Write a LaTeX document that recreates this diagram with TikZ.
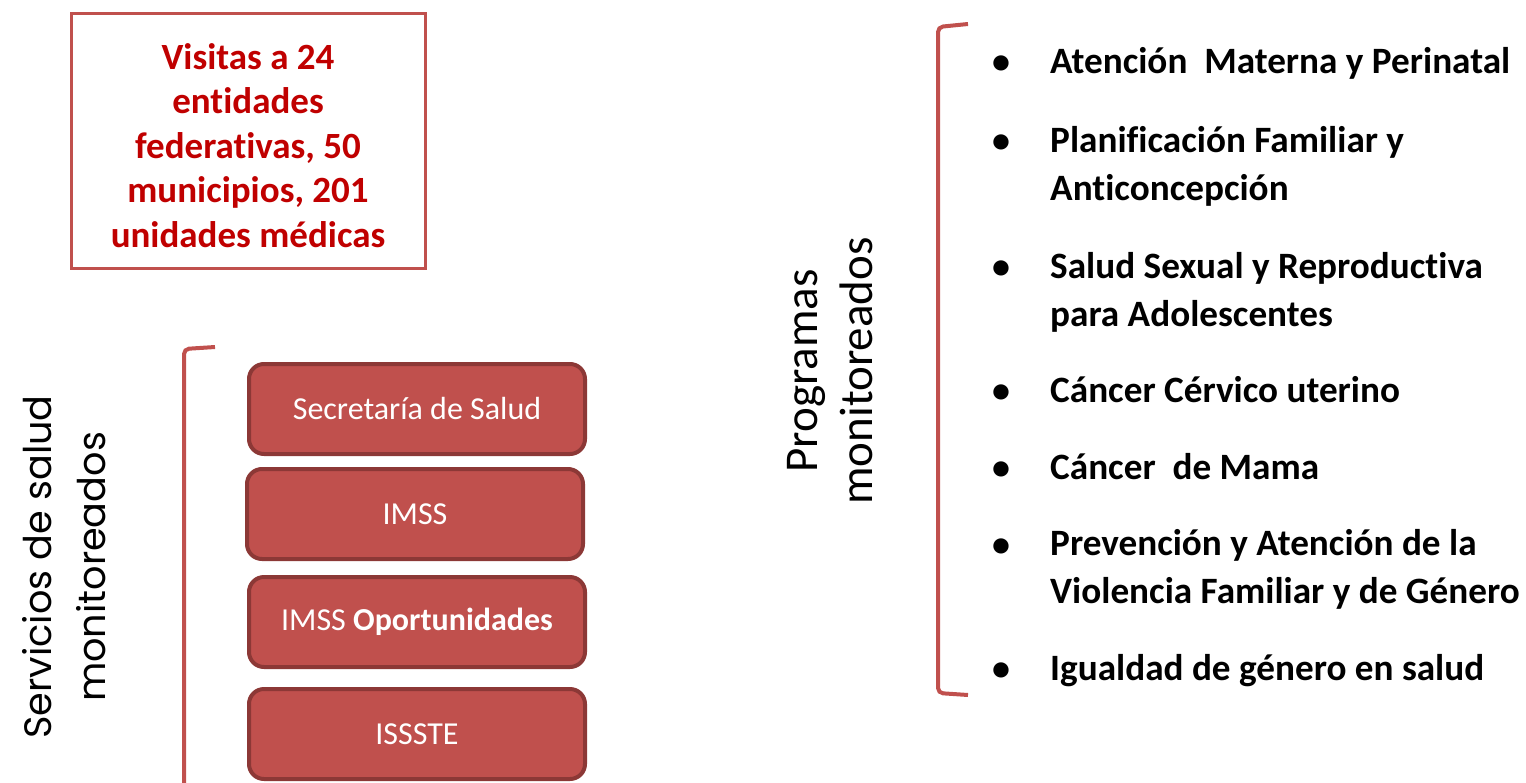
\documentclass[tikz,border=0pt]{standalone}
\usepackage{fontspec}
\setmainfont{Carlito}[Ligatures=NoCommon]
\newfontfamily\geo{Poppins}
\definecolor{brick}{HTML}{C0504D}
\definecolor{brickdark}{HTML}{8C3836}
\definecolor{deepred}{HTML}{C00000}
\tikzset{
  brk/.style={draw=brick, line width=4pt, rounded corners=5pt},
  svcbox/.style={draw=brickdark, fill=brick, line width=4pt, rounded corners=15pt,
    minimum width=336pt, minimum height=90pt, text=white, inner sep=0pt,
    font=\fontsize{32}{38}\selectfont},
  topbox/.style={draw=brick, line width=3pt, minimum width=354pt, minimum height=255pt,
    text=deepred, align=center, inner sep=0pt,
    font=\bfseries\fontsize{37}{44.25}\selectfont},
  item/.style={anchor=base west, align=left, inner sep=0pt,
    font=\bfseries\fontsize{37.2}{48}\selectfont},
  dot/.style={anchor=base, inner sep=0pt, font=\bfseries\fontsize{36}{48}\selectfont},
  vlabel/.style={rotate=90, align=center, inner sep=0pt},
}
\begin{document}
\begin{tikzpicture}[x=1pt,y=-1pt]
\useasboundingbox (0,0) rectangle (1526,782);
% top box
\node[topbox] (visitas) at (248,140.5) {\begin{tabular}{@{}c@{}}\rule{0pt}{49pt}Visitas a 24\\[0.25pt]entidades\\[0.25pt]federativas, 50\\[0.25pt]municipios, 201\\[0.25pt]unidades médicas\end{tabular}};
% left label
\node[vlabel, font=\geo\fontsize{38.2}{54}\selectfont] (servlab) at (64,567) {Servicios de salud\\monitoreados};
% left bracket
\coordinate (lbA) at (215,347);
\coordinate (lbB) at (184,349);
\coordinate (lbC) at (184,790);
\draw[brk] (lbA) -- (lbB) -- (lbC);
% service boxes
\node[svcbox] (ssa) at (417,409) {Secretaría de Salud};
\node[svcbox] (imss) at (415,514) {IMSS};
\node[svcbox] (imsso) at (417,622) {IMSS \textbf{Oportunidades}};
\node[svcbox] (issste) at (417,734) {ISSSTE};
% right label
\node[vlabel, font=\fontsize{47}{55}\selectfont] (proglab) at (830,371) {Programas\\monitoreados};
% right bracket
\coordinate (rbA) at (968,24);
\coordinate (rbB) at (938,27);
\coordinate (rbC) at (938,693);
\coordinate (rbD) at (968,695);
\draw[brk] (rbA) -- (rbB) -- (rbC) -- (rbD);
% bullets
\foreach \n/\y in {1/73,2/152,3/278,4/402,5/479,6/556,7/680}{
  \node[dot] (b\n) at (1001,\y) {•};
}
\node[item] (i1) at (1050,73) {Atención\ \ Materna y Perinatal};
\node[item] (i2) at (1050,200) {Planificación Familiar y\\Anticoncepción};
\node[item] (i3) at (1050,326) {Salud Sexual y Reproductiva\\para Adolescentes};
\node[item] (i4) at (1050,402) {Cáncer Cérvico uterino};
\node[item] (i5) at (1050,479) {Cáncer\ \ de Mama};
\node[item] (i6) at (1050,603) {Prevención y Atención de la\\Violencia Familiar y de Género};
\node[item] (i7) at (1050,680) {Igualdad de género en salud};
\end{tikzpicture}
\end{document}
